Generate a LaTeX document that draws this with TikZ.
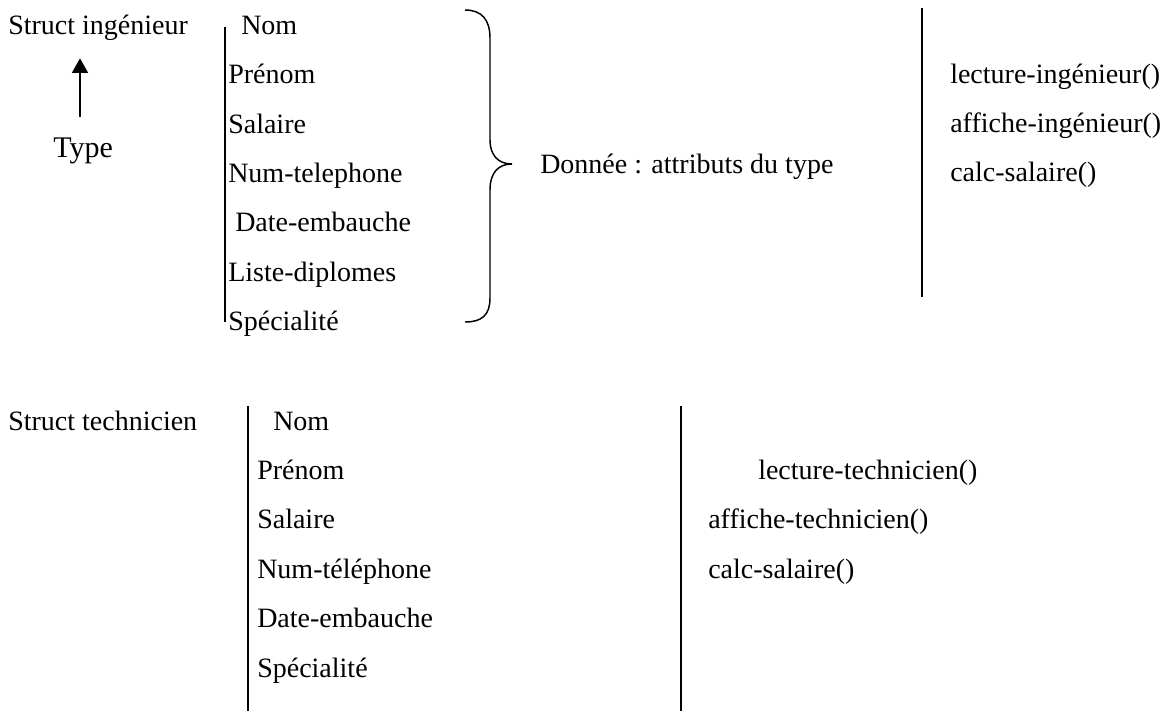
\documentclass[tikz,border=0pt]{standalone}
\usepackage{fontspec}
\setmainfont{Liberation Serif}
\usetikzlibrary{arrows.meta}
\tikzstyle{txt}   = [inner sep=0pt, anchor=base west, font=\fontsize{21}{25}\selectfont]
\tikzstyle{big}   = [txt, font=\fontsize{22.5}{27}\selectfont]
\tikzstyle{bar}   = [line width=1.5pt]
\tikzstyle{thin}  = [line width=1.1pt]
\tikzstyle{arrow} = [line width=1.5pt, -{Triangle[width=12pt,length=11pt]}]

\begin{document}
\begin{tikzpicture}[x=0.75pt, y=-0.75pt]
		\useasboundingbox (0,0) rectangle (1164,711);

		% struct ingenieur
		\node[txt] (ing) at (8,34) {Struct ingénieur};
		\node[big] (type) at (53,157) {Type};
		\draw[arrow, shorten <=15pt, shorten >=13.5pt] (80,0 |- type.north) -- (80,0 |- ing.south);

		\draw[bar] (225,27) -- (225,322);
		\node[txt] (inom) at (241,34) {Nom};
		\node[txt] (iprenom) at (228,83) {Prénom};
		\node[txt] (isal) at (228,133) {Salaire};
		\node[txt] (inum) at (228,182) {Num-telephone};
		\node[txt] (idate) at (235,231) {Date-embauche};
		\node[txt] (idipl) at (228,281) {Liste-diplomes};
		\node[txt] (ispec) at (228,330) {Spécialité};

		\draw[thin] (465,10) .. controls (482,10) and (490,20) .. (490,38) -- (490,140)
			.. controls (490,155) and (498,164) .. (512,164)
			.. controls (498,164) and (490,173) .. (490,190) -- (490,298)
			.. controls (490,315) and (482,322) .. (465,322);
		\node[txt] (donnee) at (540,173) {Donnée : attributs du type};

		\draw[thin] (922,8) -- (922,297);
		\node[txt] (ilect) at (950,83) {lecture-ingénieur()};
		\node[txt] (iaff) at (950,132) {affiche-ingénieur()};
		\node[txt] (icalc) at (950,181) {calc-salaire()};

		% struct technicien
		\node[txt] (tech) at (8,430) {Struct technicien};

		\draw[bar] (248,406) -- (248,711);
		\node[txt] (tnom) at (273,430) {Nom};
		\node[txt] (tprenom) at (257,479) {Prénom};
		\node[txt] (tsal) at (257,528) {Salaire};
		\node[txt] (tnum) at (257,578) {Num-téléphone};
		\node[txt] (tdate) at (257,627) {Date-embauche};
		\node[txt] (tspec) at (257,677) {Spécialité};

		\draw[bar] (681,406) -- (681,711);
		\node[txt] (tlect) at (758,479) {lecture-technicien()};
		\node[txt] (taff) at (708,528) {affiche-technicien()};
		\node[txt] (tcalc) at (708,578) {calc-salaire()};
	\end{tikzpicture}
\end{document}
